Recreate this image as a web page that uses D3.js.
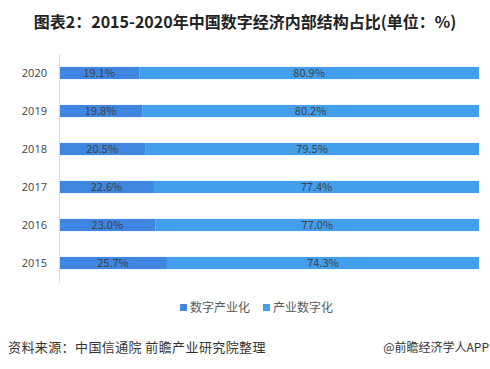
<!DOCTYPE html>
<meta charset="utf-8">
<style>
body { margin: 0; background: #fff; }
text { font-family: "Noto Sans CJK SC", "Microsoft YaHei", sans-serif; }
</style>
<svg width="490" height="369"></svg>
<script src="https://d3js.org/d3.v7.min.js"></script>
<script>

// data
var years = ["2020", "2019", "2018", "2017", "2016", "2015"];
var digitalIndustry = [19.1, 19.8, 20.5, 22.6, 23.0, 25.7];   // 数字产业化
var industryDigital = [80.9, 80.2, 79.5, 77.4, 77.0, 74.3];   // 产业数字化
var seriesNames = ["数字产业化", "产业数字化"];
var colors = ["#3f86e0", "#439feb"];

var svg = d3.select("svg"),
    margin = {top: 54, right: 11, bottom: 87, left: 59},
    width = +svg.attr("width") - margin.left - margin.right,
    height = +svg.attr("height") - margin.top - margin.bottom,
    g = svg.append("g").attr("transform", "translate(" + margin.left + "," + margin.top + ")");

// title
svg.append("text")
  .attr("x", 245).attr("y", 28)
  .attr("text-anchor", "middle")
  .attr("font-size", 16)
  .attr("font-weight", "bold")
  .attr("fill", "#222")
  .text("图表2：2015-2020年中国数字经济内部结构占比(单位：%)");

var x = d3.scaleLinear().domain([0, 100]).range([0, width]);
var y = d3.scaleBand().domain(years).range([0, height]).paddingInner(0.68).paddingOuter(0.34);

// stacked rows
var rows = years.map(function(yr, i) {
  return {year: yr, a: digitalIndustry[i], b: industryDigital[i]};
});
var stack = d3.stack().keys(["a", "b"])(rows);

stack.forEach(function(layer, k) {
  g.selectAll(".bar" + k)
    .data(layer)
    .enter().append("rect")
      .attr("x", function(d) { return x(d[0]); })
      .attr("y", function(d) { return y(d.data.year); })
      .attr("width", function(d) { return x(d[1]) - x(d[0]); })
      .attr("height", y.bandwidth())
      .attr("fill", colors[k]);

  g.selectAll(".lab" + k)
    .data(layer)
    .enter().append("text")
      .attr("x", function(d) { return (x(d[0]) + x(d[1])) / 2; })
      .attr("y", function(d) { return y(d.data.year) + y.bandwidth() / 2; })
      .attr("dy", "0.35em")
      .attr("text-anchor", "middle")
      .attr("font-size", 11)
      .attr("fill", "#404040")
      .text(function(d) { return (d[1] - d[0]).toFixed(1) + "%"; });
});

// y axis
var yAxis = g.append("g")
  .call(d3.axisLeft(y).tickSize(0).tickPadding(12));
yAxis.select(".domain").attr("stroke", "#d9d9d9");
yAxis.selectAll("text")
  .attr("font-size", 11)
  .attr("fill", "#404040")
  .style("font-family", "\"Open Sans\", sans-serif");

// legend
var legend = svg.append("g").attr("transform", "translate(180,308)");
var lx = [0, 83];
seriesNames.forEach(function(name, k) {
  legend.append("rect")
    .attr("x", lx[k]).attr("y", -4)
    .attr("width", 7).attr("height", 7)
    .attr("fill", colors[k]);
  legend.append("text")
    .attr("x", lx[k] + 10).attr("y", 0)
    .attr("dy", "0.35em")
    .attr("font-size", 12)
    .attr("fill", "#595959")
    .text(name);
});

// footer
svg.append("text")
  .attr("x", 8).attr("y", 352)
  .attr("font-size", 13)
  .attr("letter-spacing", 0.4)
  .attr("fill", "#333")
  .text("资料来源：中国信通院 前瞻产业研究院整理");

svg.append("text")
  .attr("x", 489).attr("y", 352)
  .attr("text-anchor", "end")
  .attr("font-size", 12)
  .attr("fill", "#333")
  .text("@前瞻经济学人APP");

</script>
